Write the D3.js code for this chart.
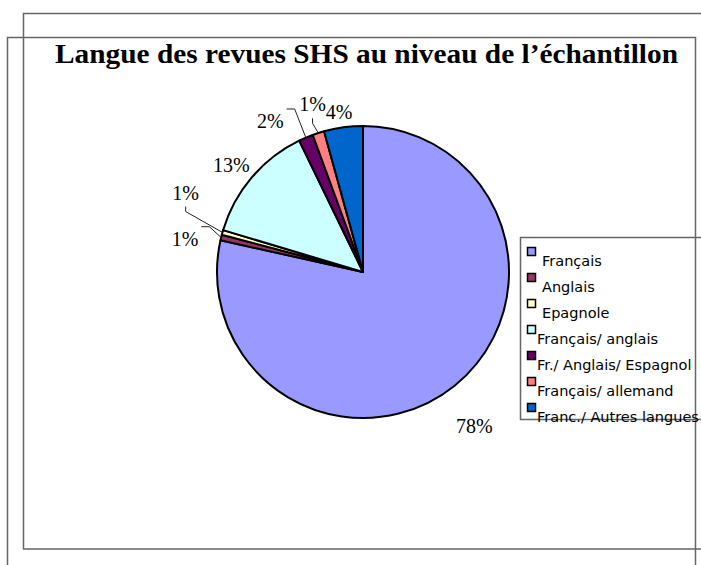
<!DOCTYPE html>
<html>
<head>
<meta charset="utf-8">
<script src="https://cdn.jsdelivr.net/npm/d3@7"></script>
<style>
  body { margin: 0; background: #fff; }
  svg { display: block; }
</style>
</head>
<body>
<svg class="chart"></svg>
<script>
// categories and share of the sample (%)
const categories = ["Français", "Anglais", "Epagnole", "Français/ anglais",
    "Fr./ Anglais/ Espagnol", "Français/ allemand", "Franc./ Autres langues"];
const shares = [78.49, 0.62, 0.52, 13.17, 1.6, 1.3, 4.3];
const sliceColors = ["#9999FF", "#993366", "#FFFFCC", "#CCFFFF", "#660066", "#FF8080", "#0066CC"];
const title = "Langue des revues SHS au niveau de l\u2019échantillon";

const canvas = {width: 701, height: 565};
const pieCenter = {x: 363, y: 272};
const radius = 146;
const labelRadius = 178;

// hand placement of the labels, as in the original (pixels)
const labelNudge = [[0, 15], [-5, 9], [-6, -31], [4, 8], [-23, 13], [4, 2], [0, 17]];

const svg = d3.select(".chart")
    .attr("width", canvas.width)
    .attr("height", canvas.height);

// the two frames of the page
svg.append("rect")
    .attr("x", 23.5).attr("y", 13.5)
    .attr("width", 700).attr("height", 535.5)
    .attr("fill", "none").attr("stroke", "#666").attr("stroke-width", 1.5);
svg.append("rect")
    .attr("x", 7.5).attr("y", 37.5)
    .attr("width", 688).attr("height", 560)
    .attr("fill", "none").attr("stroke", "#666").attr("stroke-width", 1.5);

svg.append("text")
    .attr("x", 366.5).attr("y", 63.3)
    .attr("text-anchor", "middle")
    .attr("textLength", 623)
    .attr("lengthAdjust", "spacingAndGlyphs")
    .style("font-family", "'Liberation Serif', 'Times New Roman', serif")
    .style("font-weight", "bold")
    .style("font-size", "28px")
    .text(title);

const total = d3.sum(shares);
const rows = categories.map(function (c, i) {
    return {name: c, value: shares[i], color: sliceColors[i], index: i};
});

const pie = d3.pie()
    .value(function (d) { return d.value; })
    .sort(null);
const arcs = pie(rows);

const arc = d3.arc().innerRadius(0).outerRadius(radius);
const labelArc = d3.arc().innerRadius(labelRadius).outerRadius(labelRadius);
const edgeArc = d3.arc().innerRadius(radius).outerRadius(radius);

const g = svg.append("g")
    .attr("transform", "translate(" + pieCenter.x + "," + pieCenter.y + ")");

g.selectAll(".slice")
    .data(arcs)
    .enter()
    .append("path")
    .classed("slice", true)
    .attr("d", arc)
    .attr("fill", function (d) { return d.data.color; })
    .attr("stroke", "#000")
    .attr("stroke-width", 2)
    .attr("stroke-linejoin", "round");

const labels = g.selectAll(".pct")
    .data(arcs)
    .enter()
    .append("text")
    .classed("pct", true)
    .attr("transform", function (d) {
        const c = labelArc.centroid(d);
        const n = labelNudge[d.data.index];
        return "translate(" + (c[0] + n[0]) + "," + (c[1] + n[1]) + ")";
    })
    .attr("text-anchor", "middle")
    .attr("dy", "0.34em")
    .style("font-family", "'Liberation Serif', 'Times New Roman', serif")
    .style("font-size", "20px")
    .text(function (d) { return Math.round(d.data.value / total * 100) + "%"; });

// leader lines for the thin slices
labels.each(function (d) {
    if (d.data.value >= 3) return;
    const b = this.getBBox();
    const c = labelArc.centroid(d);
    const n = labelNudge[d.data.index];
    const cx = c[0] + n[0], cy = c[1] + n[1];
    const end = edgeArc.centroid(d);
    let pts;
    if (Math.abs(end[0] - cx) < Math.abs(end[1] - cy)) {
        // label sits above the slice: drop from its bottom
        const sx = cx, sy = cy + b.y + b.height + 3;
        pts = [[sx, sy], [sx, sy + 5], end];
    } else {
        const sx = cx + b.x + b.width + 3, sy = cy + b.y - 1;
        pts = [[sx, sy], [sx + 8, sy], end];
    }
    g.append("polyline")
        .attr("points", pts.map(function (p) { return p.join(","); }).join(" "))
        .attr("fill", "none")
        .attr("stroke", "#222")
        .attr("stroke-width", 1);
});

// legend
const legend = svg.append("g");
legend.append("rect")
    .attr("x", 520.5).attr("y", 237.5)
    .attr("width", 200).attr("height", 182)
    .attr("fill", "none").attr("stroke", "#666").attr("stroke-width", 1.5);

const items = legend.selectAll(".item")
    .data(rows)
    .enter()
    .append("g")
    .classed("item", true)
    .attr("transform", function (d, i) { return "translate(527.5," + (247.5 + i * 26) + ")"; });

items.append("rect")
    .attr("width", 8).attr("height", 8)
    .attr("fill", function (d) { return d.color; })
    .attr("stroke", "#000")
    .attr("stroke-width", 1.5);

items.append("text")
    .attr("x", function (d) { return d.name.length > 10 ? 9.5 : 14.5; })
    .attr("y", 18.3)
    .style("font-family", "'DejaVu Sans', sans-serif")
    .style("font-size", "14.5px")
    .text(function (d) { return d.name; });
</script>
</body>
</html>
